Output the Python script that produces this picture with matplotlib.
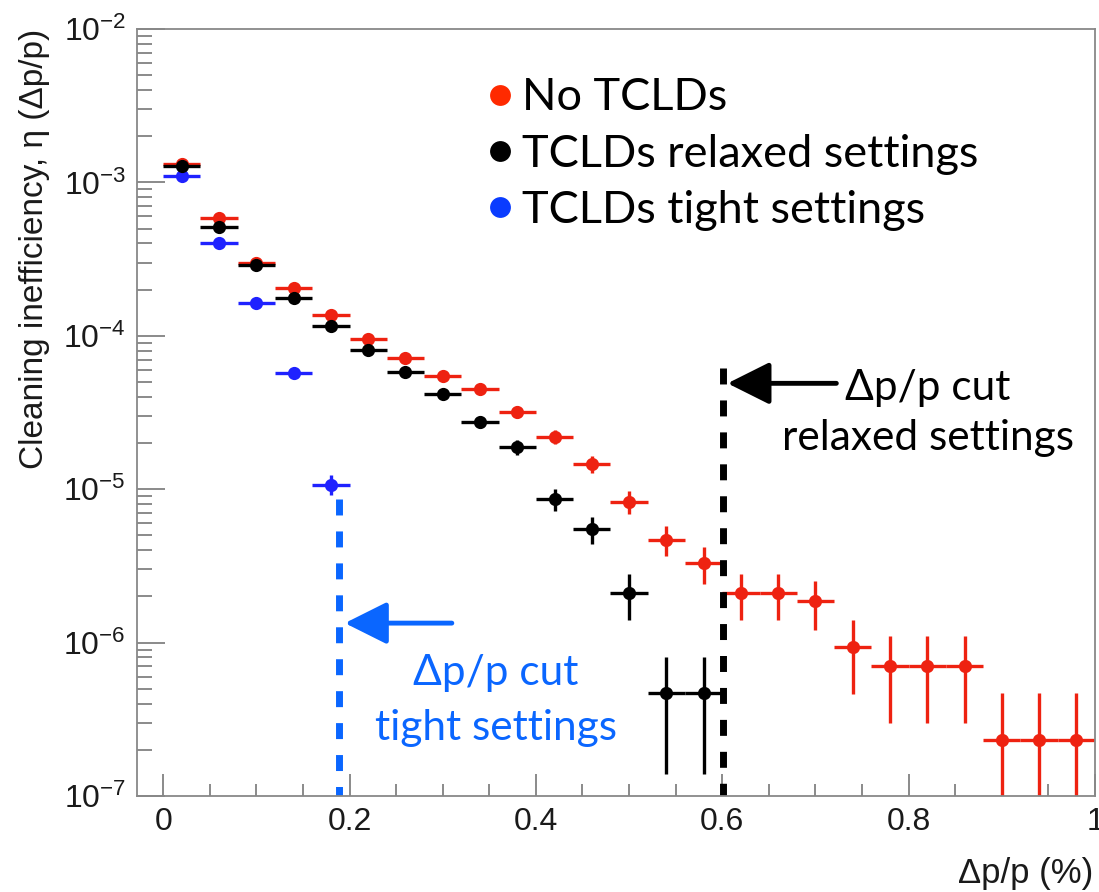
import matplotlib
matplotlib.use('Agg')
from matplotlib import pyplot as plt
from matplotlib.lines import Line2D
from matplotlib.ticker import LogLocator, NullFormatter, MultipleLocator, FuncFormatter

plt.rcParams['font.family'] = ['Liberation Sans', 'DejaVu Sans']
plt.rcParams['mathtext.fontset'] = 'custom'
plt.rcParams['mathtext.rm'] = 'Liberation Sans'
plt.rcParams['mathtext.it'] = 'Liberation Sans:italic'
plt.rcParams['mathtext.default'] = 'regular'

# --- data ---
bin_half = 0.02

no_tcld_x = [0.02, 0.06, 0.10, 0.14, 0.18, 0.22, 0.26, 0.30, 0.34, 0.38, 0.42, 0.46, 0.50,
             0.54, 0.58, 0.62, 0.66, 0.70, 0.74, 0.78, 0.82, 0.86, 0.90, 0.94, 0.98]
no_tcld_y = [1.32e-3, 5.9e-4, 3.0e-4, 2.05e-4, 1.37e-4, 9.5e-5, 7.2e-5, 5.5e-5, 4.5e-5, 3.2e-5,
             2.2e-5, 1.46e-5, 8.3e-6, 4.7e-6, 3.3e-6, 2.1e-6, 2.1e-6, 1.86e-6, 9.3e-7, 7.0e-7,
             7.0e-7, 7.0e-7, 2.33e-7, 2.33e-7, 2.33e-7]
no_tcld_err = [1.7e-5, 1.2e-5, 8.4e-6, 6.9e-6, 5.6e-6, 4.7e-6, 4.1e-6, 3.6e-6, 3.2e-6, 2.7e-6,
               2.3e-6, 1.8e-6, 1.4e-6, 1.05e-6, 8.8e-7, 7.0e-7, 7.0e-7, 6.6e-7, 4.7e-7, 4.0e-7,
               4.0e-7, 4.0e-7, 2.33e-7, 2.33e-7, 2.33e-7]

relaxed_x = [0.02, 0.06, 0.10, 0.14, 0.18, 0.22, 0.26, 0.30, 0.34, 0.38, 0.42, 0.46, 0.50,
             0.54, 0.58]
relaxed_y = [1.28e-3, 5.1e-4, 2.9e-4, 1.76e-4, 1.15e-4, 8.1e-5, 5.8e-5, 4.2e-5, 2.75e-5,
             1.88e-5, 8.6e-6, 5.5e-6, 2.1e-6, 4.7e-7, 4.7e-7]
relaxed_err = [1.7e-5, 1.1e-5, 8.2e-6, 6.4e-6, 5.2e-6, 4.3e-6, 3.7e-6, 3.1e-6, 2.5e-6,
               2.1e-6, 1.4e-6, 1.13e-6, 7.0e-7, 3.3e-7, 3.3e-7]

tight_x = [0.02, 0.06, 0.10, 0.14, 0.18]
tight_y = [1.1e-3, 4.0e-4, 1.64e-4, 5.75e-5, 1.07e-5]
tight_err = [1.6e-5, 9.7e-6, 6.2e-6, 3.7e-6, 1.6e-6]

cut_relaxed = 0.601
cut_tight = 0.189

labels = ['No TCLDs', 'TCLDs relaxed settings', 'TCLDs tight settings']

red = '#ee2211'
blue = '#1f22ff'
ann_blue = '#0a66ff'
txt = '#1a1a1a'

fig = plt.figure(figsize=(10.99, 8.92), dpi=100)
ax = fig.add_axes([0.1247, 0.1076, 0.8717, 0.8599])

ebkw = dict(fmt='o', ms=9.5, mew=0, elinewidth=2.4, capsize=0)
ax.errorbar(no_tcld_x, no_tcld_y, xerr=bin_half, yerr=no_tcld_err, color=red, **ebkw)
ax.errorbar(tight_x, tight_y, xerr=bin_half, yerr=tight_err, color=blue, **ebkw)
ax.errorbar(relaxed_x, relaxed_y, xerr=bin_half, yerr=relaxed_err, color='black', **ebkw)

ax.set_yscale('log')
ax.set_ylim(1e-7, 1e-2)
ax.set_xlim(-0.028, 1.0)

ax.xaxis.set_major_locator(MultipleLocator(0.2))
ax.xaxis.set_minor_locator(MultipleLocator(0.05))
ax.xaxis.set_major_formatter(FuncFormatter(lambda v, p: f'{v:g}'))
ax.yaxis.set_minor_locator(LogLocator(base=10, subs=range(2, 10), numticks=20))
ax.yaxis.set_minor_formatter(NullFormatter())

ax.tick_params(which='both', direction='in', top=False, right=False,
               color='#777777', width=1.2, labelcolor=txt)
ax.tick_params(axis='y', which='major', length=20, pad=8, labelsize=23)
ax.tick_params(axis='y', which='minor', length=11)
ax.tick_params(axis='x', which='major', length=16, pad=8, labelsize=23)
ax.tick_params(axis='x', which='minor', length=8.5)
for s in ax.spines.values():
    s.set_color('#888888')
    s.set_linewidth(1.3)

ax.set_ylabel('Cleaning inefficiency, η (Δp/p)', fontsize=24, color=txt, loc='top')
ax.yaxis.set_label_coords(-0.091, 1.0)
ax.set_xlabel('Δp/p (%)', fontsize=25, color=txt, loc='right')
ax.xaxis.label.set_va('center')
ax.xaxis.set_label_coords(0.998, -0.1004)

# legend: plain dots
handles = [Line2D([], [], ls='none', marker='o', ms=15, mew=0, color=c)
           for c in ['#ff2a00', 'black', '#0a3cff']]
ax.legend(handles, labels, loc='upper left', bbox_to_anchor=(0.3598, 0.937), frameon=False,
          prop={'family': 'Lato', 'size': 32.5}, handlelength=0.8, handletextpad=0.1,
          labelspacing=0.34, borderpad=0, borderaxespad=0)

# cut lines and annotations
ax.plot([cut_relaxed, cut_relaxed], [6.2e-5, 1e-7], color='black', lw=5, ls=(0, (2.3, 2.3)))
ax.plot([cut_tight, cut_tight], [8.6e-6, 1e-7], color=ann_blue, lw=5, ls=(0, (2.3, 2.3)))

ax.annotate('', xy=(0.6056, 4.9e-5), xytext=(0.7224, 4.9e-5),
            arrowprops=dict(arrowstyle='-|>,head_length=1.3,head_width=0.65', lw=3.5,
                            color='black', shrinkA=0, shrinkB=0, mutation_scale=20))
ax.annotate('', xy=(0.195, 1.34e-6), xytext=(0.3098, 1.34e-6),
            arrowprops=dict(arrowstyle='-|>,head_length=1.3,head_width=0.65', lw=3.5,
                            color=ann_blue, shrinkA=0, shrinkB=0, mutation_scale=20))

akw = dict(ha='center', va='center', fontsize=30.5, family='Lato')
ax.text(0.8205, 4.6e-5, 'Δp/p cut', color='black', **akw)
ax.text(0.8205, 2.16e-5, 'relaxed settings', color='black', **akw)
ax.text(0.357, 6.34e-7, 'Δp/p cut', color=ann_blue, **akw)
ax.text(0.357, 2.77e-7, 'tight settings', color=ann_blue, **akw)

fig.savefig('out.png', dpi=100)
